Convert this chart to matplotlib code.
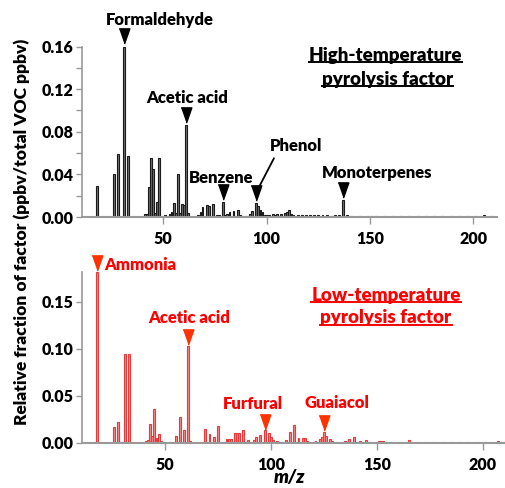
import numpy as np
import matplotlib
matplotlib.use('Agg')
import matplotlib.pyplot as plt
from matplotlib.lines import Line2D

plt.rcParams['font.family'] = ['Lato', 'DejaVu Sans']
plt.rcParams['font.weight'] = 'heavy'

# high-temperature pyrolysis factor (black)
hi_mz = [18, 26, 28, 31, 33, 41, 42, 43, 44, 45, 46, 47, 48, 51, 53, 54, 55, 56, 57, 58,
         59, 60, 61, 62, 67, 68, 69, 71, 72, 74, 76, 77, 79, 80, 81, 82, 84, 86, 87, 88,
         90, 92, 93, 95, 96, 97, 98, 99, 100, 101, 103, 104, 105, 107, 109, 110, 111, 112,
         113, 115, 117, 119, 121, 123, 125, 127, 129, 131, 133, 135, 137, 139, 141, 145,
         149, 151, 153, 157, 161, 165, 169, 173, 177, 181, 185, 189, 193, 197, 201, 205, 209]
hi_val = [0.029, 0.040, 0.059, 0.160, 0.057, 0.003, 0.003, 0.028, 0.055, 0.045, 0.004, 0.014,
          0.055, 0.002, 0.003, 0.005, 0.013, 0.004, 0.040, 0.004, 0.012, 0.011, 0.086, 0.004,
          0.002, 0.005, 0.009, 0.011, 0.010, 0.012, 0.002, 0.002, 0.014, 0.002, 0.003, 0.005,
          0.006, 0.007, 0.002, 0.001, 0.001, 0.003, 0.006, 0.013, 0.010, 0.007, 0.005, 0.002,
          0.002, 0.002, 0.003, 0.002, 0.003, 0.003, 0.004, 0.005, 0.007, 0.003, 0.002, 0.002,
          0.002, 0.002, 0.002, 0.002, 0.002, 0.002, 0.002, 0.001, 0.002, 0.002, 0.0155, 0.002,
          0.001, 0.001, 0.001, 0.001, 0.001, 0.001, 0.001, 0.001, 0.001, 0.001, 0.001, 0.001,
          0.001, 0.001, 0.001, 0.001, 0.001, 0.002, 0.001]

# low-temperature pyrolysis factor (red)
lo_mz = [18, 26, 28, 31, 33, 41, 42, 43, 44, 45, 46, 47, 48, 53, 55, 57, 59, 61, 62, 69,
         71, 73, 75, 79, 80, 81, 83, 84, 85, 87, 89, 92, 93, 95, 97, 99, 100, 101, 103, 105,
         107, 109, 111, 113, 115, 116, 117, 121, 123, 124, 125, 126, 128, 129, 135, 137, 139,
         142, 145, 147, 151, 152, 153, 154, 157, 161, 165, 169, 173, 177, 181, 185, 189, 193,
         197, 201, 207]
lo_val = [0.182, 0.0166, 0.022, 0.094, 0.094, 0.002, 0.003, 0.020, 0.007, 0.036, 0.005, 0.009,
          0.002, 0.001, 0.007, 0.027, 0.013, 0.103, 0.002, 0.015, 0.009, 0.006, 0.018, 0.004,
          0.004, 0.004, 0.010, 0.010, 0.010, 0.013, 0.003, 0.003, 0.006, 0.008, 0.013, 0.010,
          0.006, 0.003, 0.002, 0.001, 0.003, 0.011, 0.0185, 0.005, 0.005, 0.005, 0.002, 0.002,
          0.004, 0.006, 0.011, 0.007, 0.004, 0.002, 0.002, 0.004, 0.006, 0.002, 0.003, 0.001,
          0.002, 0.002, 0.002, 0.001, 0.001, 0.001, 0.003, 0.001, 0.001, 0.001, 0.001, 0.001,
          0.001, 0.001, 0.001, 0.001, 0.002]

hi_labels = {'Formaldehyde': 31, 'Acetic acid': 61, 'Benzene': 79, 'Phenol': 95, 'Monoterpenes': 137}
lo_labels = {'Ammonia': 18, 'Acetic acid': 61, 'Furfural': 97, 'Guaiacol': 125}

W, H = 505, 488
def px(x, y):
    return x / W, 1 - y / H

fig = plt.figure(figsize=(W / 100, H / 100), dpi=100)

l, b = px(82, 217)
ax1 = fig.add_axes([l, b, (497 - 82) / W, (217 - 46.5) / H])
l, b = px(81.7, 442.7)
ax2 = fig.add_axes([l, b, (505 - 81.7) / W, (442.7 - 271.7) / H])

ax1.bar(hi_mz, hi_val, width=0.9, color='#707070', edgecolor='#1a1a1a', linewidth=0.8)
ax2.bar(lo_mz, lo_val, width=0.9, color='#f48c8c', edgecolor='#e83a3a', linewidth=0.8)

ax1.set_xlim(10.7, 211.4)
ax1.set_ylim(0, 0.16)
ax2.set_xlim(10.7, 210.4)
ax2.set_ylim(0, 0.182)

ax1.set_yticks([0, 0.04, 0.08, 0.12, 0.16])
ax1.set_yticklabels(['0.00', '0.04', '0.08', '0.12', '0.16'])
ax1.set_yticks([0.02, 0.06, 0.10, 0.14], minor=True)
ax2.set_yticks([0, 0.05, 0.10, 0.15])
ax2.set_yticklabels(['0.00', '0.05', '0.10', '0.15'])
for ax in (ax1, ax2):
    ax.set_xticks([50, 100, 150, 200])
    for s in ('top', 'right'):
        ax.spines[s].set_visible(False)
    ax.spines['left'].set_color('#999999')
    ax.spines['bottom'].set_color('#999999')
    ax.spines['left'].set_linewidth(1.2)
    ax.spines['bottom'].set_linewidth(1.5)
    ax.tick_params(which='both', color='#999999', labelsize=11.5, width=1.0)
    ax.tick_params(axis='y', which='major', length=4, pad=2)
    ax.tick_params(axis='y', which='minor', length=4)
    ax.tick_params(axis='x', length=5, pad=5)

tri = [(-0.7, 1), (0.7, 1), (0, -1)]

def mark(ax, mz_list, val_list, names, off, color, size):
    for name, m in names.items():
        v = val_list[mz_list.index(m)]
        ax.plot([m], [v + off], marker=tri, markersize=size, color=color,
                linestyle='none', clip_on=False)

mark(ax1, hi_mz, hi_val, hi_labels, 0.0095, 'black', 11)
mark(ax2, lo_mz, lo_val, lo_labels, 0.0095, '#ff3300', 11)

# phenol arrow line
ax1.add_line(Line2D([103.5, 96.8], [0.055, 0.030], color='black', lw=1.3, clip_on=False))

fs = 12
for txt, (x, y) in {'Formaldehyde': (159.5, 20), 'Acetic acid': (187, 98),
                    'Benzene': (221.5, 178), 'Phenol': (296, 146),
                    'Monoterpenes': (377.5, 173)}.items():
    fig.text(*px(x, y), txt, ha='center', va='center', fontsize=fs, color='black')

red = '#ff0000'
for txt, (x, y) in {'Ammonia': (140, 265), 'Acetic acid': (189, 318),
                    'Furfural': (252.5, 404), 'Guaiacol': (336.5, 403)}.items():
    fig.text(*px(x, y), txt, ha='center', va='center', fontsize=fs, color=red)

titles = [('High-temperature', 385.5, 55, 'black'), ('pyrolysis factor', 387.5, 79, 'black'),
          ('Low-temperature', 386, 295, red), ('pyrolysis factor', 386, 318, red)]
ttexts = []
for txt, x, y, c in titles:
    t = fig.text(*px(x, y), txt, ha='center', va='center', fontsize=13.5, color=c)
    ttexts.append((t, c))

fig.text(*px(22, 232), 'Relative fraction of factor (ppbv/total VOC ppbv)', rotation=90,
         ha='center', va='center', fontsize=12.5)
fig.text(*px(290, 477), 'm/z', ha='center', va='center', fontsize=13.5, style='italic')

# underline the panel titles
fig.canvas.draw()
r = fig.canvas.get_renderer()
for t, c in ttexts:
    bb = t.get_window_extent(r).transformed(fig.transFigure.inverted())
    yl = bb.y0 + 0.003
    fig.add_artist(Line2D([bb.x0, bb.x1], [yl, yl], color=c, lw=1.4, transform=fig.transFigure))

plt.savefig('out.png', dpi=100)
plt.close()
